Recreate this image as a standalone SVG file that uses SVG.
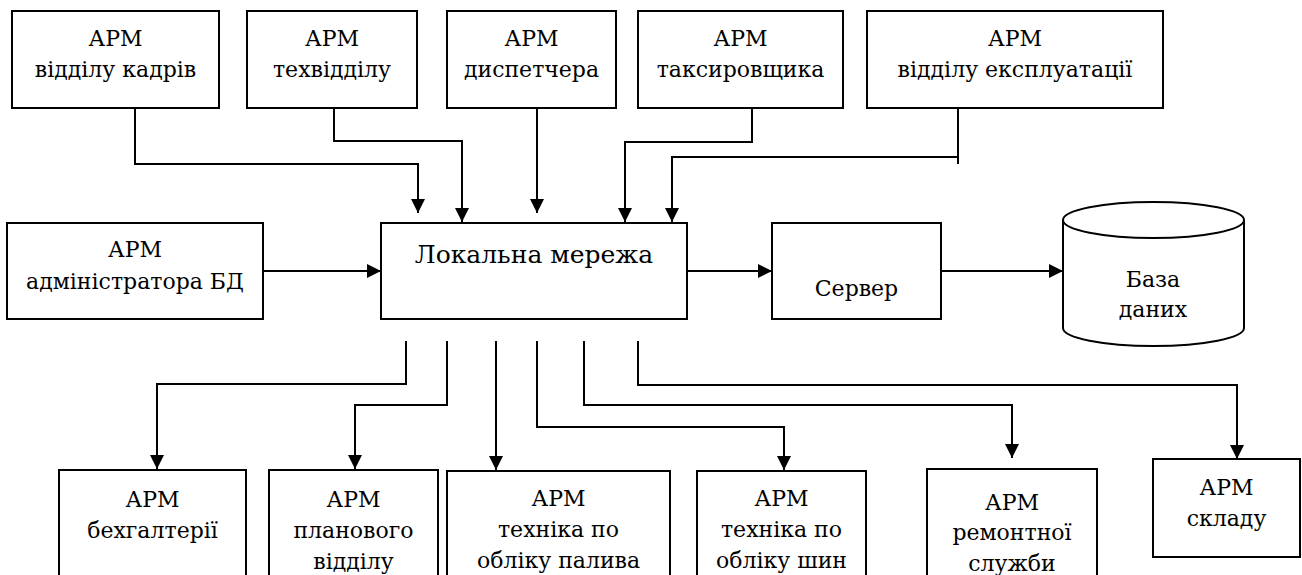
<svg xmlns="http://www.w3.org/2000/svg" width="1302" height="575" viewBox="0 0 1302 575">
<style>
.box{fill:#fff;stroke:#000;stroke-width:2}
.t{font-family:"DejaVu Serif",serif;font-size:22px;text-anchor:middle;fill:#000}
.big{font-size:25px}
.c{fill:none;stroke:#000;stroke-width:2}
</style>
<defs>
<marker id="ah" markerUnits="userSpaceOnUse" markerWidth="16" markerHeight="16" refX="14" refY="7" orient="auto">
<path d="M0,0 L14,7 L0,14 z" fill="#000"/>
</marker>
</defs>
<rect width="1302" height="575" fill="#fff"/>
<g id="connectors">
<path class="c" d="M135,108 V164 H418 V213" marker-end="url(#ah)"/>
<path class="c" d="M334,108 V141 H462 V222" marker-end="url(#ah)"/>
<path class="c" d="M537,108 V213" marker-end="url(#ah)"/>
<path class="c" d="M752,108 V142 H625 V222" marker-end="url(#ah)"/>
<path class="c" d="M958,108 V164"/>
<path class="c" d="M958,157 H672 V222" marker-end="url(#ah)"/>
<path class="c" d="M263,271 H381" marker-end="url(#ah)"/>
<path class="c" d="M687,271 H772" marker-end="url(#ah)"/>
<path class="c" d="M941,271 H1063" marker-end="url(#ah)"/>
<path class="c" d="M406,341 V384 H157 V469" marker-end="url(#ah)"/>
<path class="c" d="M447,341 V405 H355 V469" marker-end="url(#ah)"/>
<path class="c" d="M496,341 V470" marker-end="url(#ah)"/>
<path class="c" d="M537,341 V427 H784 V470" marker-end="url(#ah)"/>
<path class="c" d="M584,341 V405 H1012 V458" marker-end="url(#ah)"/>
<path class="c" d="M638,341 V385 H1237 V459" marker-end="url(#ah)"/>
</g>
<g id="n1"><rect class="box" x="12" y="11" width="207" height="97"/><text class="t" x="115.5" y="46">АРМ</text><text class="t" x="115.5" y="77">відділу кадрів</text></g>
<g id="n2"><rect class="box" x="247" y="11" width="170" height="97"/><text class="t" x="332" y="46">АРМ</text><text class="t" x="332" y="77">техвідділу</text></g>
<g id="n3"><rect class="box" x="447" y="11" width="169" height="97"/><text class="t" x="531.5" y="46">АРМ</text><text class="t" x="531.5" y="77">диспетчера</text></g>
<g id="n4"><rect class="box" x="638" y="11" width="205" height="97"/><text class="t" x="740.5" y="46">АРМ</text><text class="t" x="740.5" y="77">таксировщика</text></g>
<g id="n5"><rect class="box" x="867" y="11" width="296" height="97"/><text class="t" x="1015" y="46">АРМ</text><text class="t" x="1015" y="77">відділу експлуатації</text></g>
<g id="admin"><rect class="box" x="7" y="223" width="256" height="96"/><text class="t" x="135" y="257">АРМ</text><text class="t" x="135" y="289">адміністратора БД</text></g>
<g id="lan"><rect class="box" x="381" y="223" width="306" height="96"/><text class="t big" x="534" y="263">Локальна мережа</text></g>
<g id="server"><rect class="box" x="772" y="223" width="169" height="96"/><text class="t" x="856.5" y="296">Сервер</text></g>
<g id="db"><path class="box" d="M1063,220 V328 A90.5,18 0 0 0 1244,328 V220 A90.5,18 0 0 0 1063,220 A90.5,18 0 0 0 1244,220"/><text class="t" x="1153" y="287">База</text><text class="t" x="1153" y="317">даних</text></g>
<g id="b1"><rect class="box" x="59" y="470" width="187" height="120"/><text class="t" x="152.5" y="507">АРМ</text><text class="t" x="152.5" y="538">бехгалтерії</text></g>
<g id="b2"><rect class="box" x="269" y="470" width="169" height="120"/><text class="t" x="353.5" y="507">АРМ</text><text class="t" x="353.5" y="538">планового</text><text class="t" x="353.5" y="569">відділу</text></g>
<g id="b3"><rect class="box" x="447" y="471" width="223" height="120"/><text class="t" x="558.5" y="506">АРМ</text><text class="t" x="558.5" y="537">техніка по</text><text class="t" x="558.5" y="568">обліку палива</text></g>
<g id="b4"><rect class="box" x="697" y="471" width="169" height="120"/><text class="t" x="781.5" y="506">АРМ</text><text class="t" x="781.5" y="537">техніка по</text><text class="t" x="781.5" y="568">обліку шин</text></g>
<g id="b5"><rect class="box" x="927" y="469" width="170" height="120"/><text class="t" x="1012" y="510">АРМ</text><text class="t" x="1012" y="540">ремонтної</text><text class="t" x="1012" y="571">служби</text></g>
<g id="b6"><rect class="box" x="1153" y="459" width="147" height="98"/><text class="t" x="1226.5" y="495">АРМ</text><text class="t" x="1226.5" y="526">складу</text></g>
</svg>
